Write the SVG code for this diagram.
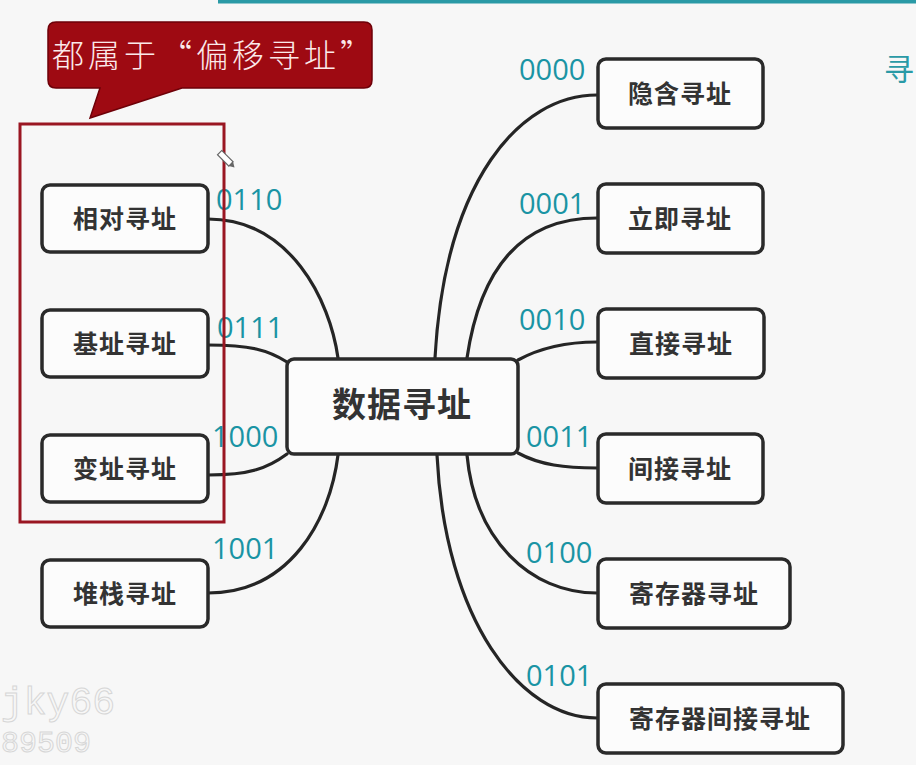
<svg xmlns="http://www.w3.org/2000/svg" width="916" height="765" viewBox="0 0 916 765">
  <style>
    .node rect { fill: #fcfcfc; stroke: #2a2a2a; stroke-width: 3.5; }
    .node text { font-family: "Noto Sans CJK SC", "Noto Sans", sans-serif; font-weight: bold; font-size: 25px; fill: #333333; text-anchor: middle; letter-spacing: 1px; }
    .hub text { font-size: 34px; }
    .conn path { fill: none; stroke: #252525; stroke-width: 3.2; stroke-linecap: round; }
    .code { font-family: "Open Sans", "Liberation Sans", sans-serif; font-size: 29px; fill: #1a94a4; }
  </style>
  <rect x="0" y="0" width="916" height="765" fill="#f7f7f7"/>
  <rect x="218" y="0" width="698" height="3.5" fill="#2a9aa6"/>
  <text x="884" y="80" font-family="Noto Sans CJK SC, sans-serif" font-size="30" fill="#2a9aa6">寻</text>

  <g id="connectors" class="conn">
    <path d="M208,219 C290,219 330,300 338,358"/>
    <path d="M208,345 C250,345 268,350 287,362"/>
    <path d="M208,475 C250,475 268,468 287,454"/>
    <path d="M208,593 C290,593 330,520 338,455"/>
    <path d="M435,358 C445,180 520,95 597,95"/>
    <path d="M467,358 C480,270 520,218 597,218"/>
    <path d="M518,360 C540,348 565,342 597,342"/>
    <path d="M518,453 C540,465 565,468 597,468"/>
    <path d="M467,455 C475,540 530,593 597,593"/>
    <path d="M437,455 C445,620 520,718 597,718"/>
  </g>

  <g id="labels">
    <text class="code" x="216" y="210">0110</text>
    <text class="code" x="217" y="338">0111</text>
    <text class="code" x="212" y="447">1000</text>
    <text class="code" x="212" y="559">1001</text>
    <text class="code" x="519" y="80">0000</text>
    <text class="code" x="519" y="214">0001</text>
    <text class="code" x="519" y="330">0010</text>
    <text class="code" x="526" y="447">0011</text>
    <text class="code" x="526" y="563">0100</text>
    <text class="code" x="526" y="686">0101</text>
  </g>

  <g id="n-xiangdui" class="node"><rect x="42" y="185" width="166" height="67" rx="8"/><text x="125" y="228">相对寻址</text></g>
  <g id="n-jizhi" class="node"><rect x="42" y="310" width="166" height="67" rx="8"/><text x="125" y="353">基址寻址</text></g>
  <g id="n-bianzhi" class="node"><rect x="42" y="435" width="166" height="67" rx="8"/><text x="125" y="478">变址寻址</text></g>
  <g id="n-duizhan" class="node"><rect x="42" y="560" width="166" height="67" rx="8"/><text x="125" y="603">堆栈寻址</text></g>

  <g id="n-hub" class="node hub"><rect x="287" y="359" width="231" height="95" rx="7"/><text x="402" y="417">数据寻址</text></g>

  <g id="n-yinhan" class="node"><rect x="598" y="59" width="165" height="69" rx="8"/><text x="680" y="103">隐含寻址</text></g>
  <g id="n-liji" class="node"><rect x="598" y="184" width="165" height="69" rx="8"/><text x="680" y="228">立即寻址</text></g>
  <g id="n-zhijie" class="node"><rect x="598" y="309" width="166" height="69" rx="8"/><text x="681" y="353">直接寻址</text></g>
  <g id="n-jianjie" class="node"><rect x="598" y="434" width="165" height="69" rx="8"/><text x="680" y="478">间接寻址</text></g>
  <g id="n-jicunqi" class="node"><rect x="598" y="559" width="192" height="69" rx="8"/><text x="694" y="603">寄存器寻址</text></g>
  <g id="n-jicunqijianjie" class="node"><rect x="598" y="684" width="245" height="69" rx="8"/><text x="720" y="728">寄存器间接寻址</text></g>

  <g id="group-box">
    <rect x="20" y="124" width="204" height="398" fill="none" stroke="#9a1622" stroke-width="3"/>
  </g>

  <g id="callout">
    <path d="M56,22 H364 Q372,22 372,30 V80 Q372,88 364,88 H182 L90,118 L100,88 H56 Q48,88 48,80 V30 Q48,22 56,22 Z" fill="#9e0a12" stroke="#6e0008" stroke-width="1.5"/>
    <text x="52" y="67" font-family="Noto Sans CJK SC, sans-serif" font-weight="300" font-size="32" fill="#fbe9ea" letter-spacing="4">都属于“偏移寻址”</text>
  </g>

  <g id="pencil" transform="translate(226,159) rotate(-45)">
    <rect x="-3" y="-9" width="6" height="16" fill="#ffffff" stroke="#666666" stroke-width="1.2"/>
    <path d="M-3,7 L0,12 L3,7 Z" fill="#666666"/>
  </g>

  <g id="watermark" font-family="Liberation Mono, monospace" fill="none" stroke="#d6d6d6" stroke-width="1">
    <text x="1" y="714" font-size="38">jky66</text>
    <text x="1" y="752" font-size="30">89509</text>
  </g>
</svg>
